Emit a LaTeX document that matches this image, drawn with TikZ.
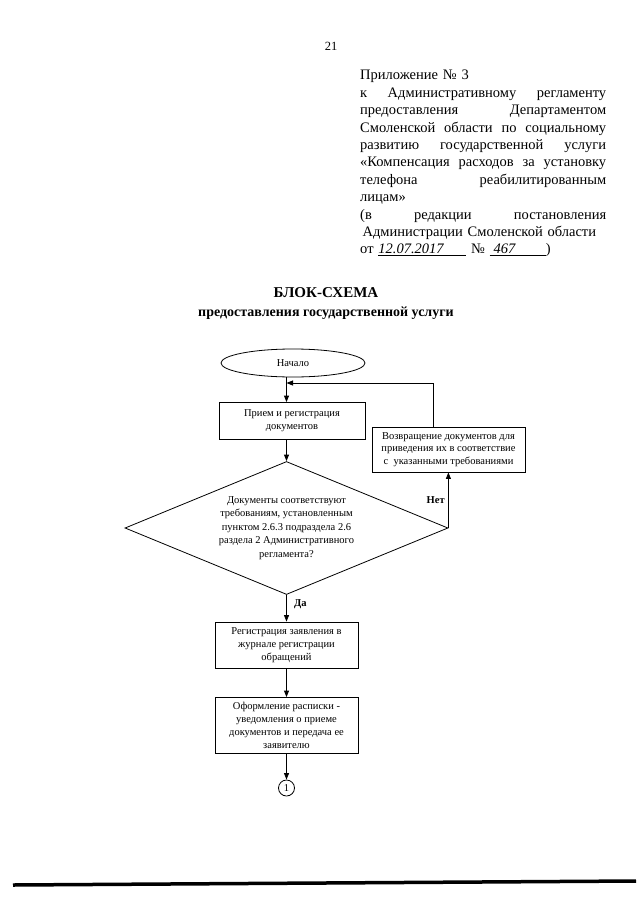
\documentclass[tikz,border=0pt]{standalone}
\usepackage{fontspec}
\setmainfont{Liberation Serif}
\usetikzlibrary{positioning, shapes.geometric, arrows.meta, calc}

% one justified line of the appendix header
\newcommand{\jline}[1]{\leavevmode\hbox to 246pt{#1}}

\begin{document}
\begin{tikzpicture}[x=1pt, y=-1pt,
    box/.style={draw, line width=0.8pt, align=center, inner sep=1pt, font=\fontsize{10.5}{12.8}\selectfont},
    arr/.style={line width=0.8pt, -{Triangle[length=6.5pt,width=5pt]}},
    lbl/.style={font=\bfseries\fontsize{10.5}{12.6}\selectfont}]
  \useasboundingbox (0,0) rectangle (640,905);

  % Page number and appendix header
  \node[font=\fontsize{12.5}{15}\selectfont] (page) at (331,46) {21};
  \node[anchor=north west, inner sep=0pt, text width=246pt, align=left,
        font=\fontsize{14.5}{17.4}\selectfont] (app) at (360,70) {%
    Приложение № 3\\
    \jline{к\hfill Административному\hfill регламенту}\\
    \jline{предоставления\hfill Департаментом}\\
    \jline{Смоленской\hfill области\hfill по\hfill социальному}\\
    \jline{развитию\hfill государственной\hfill услуги}\\
    \jline{«Компенсация\hfill расходов\hfill за\hfill установку}\\
    \jline{телефона\hfill реабилитированным}\\
    лицам»\\
    \jline{(в\hfill редакции\hfill постановления}\\
    \,Администрации Смоленской области\\
    от \underline{\textit{12.07.2017}\hspace*{22pt}} № \underline{\hspace*{4pt}\textit{467}\hspace*{30pt}})};

  % Title
  \node[font=\bfseries\fontsize{14}{19}\selectfont, align=center] (title) at (326,304)
    {{\fontsize{15}{19}\selectfont БЛОК-СХЕМА}\\предоставления государственной услуги};

  % Blocks
  \node[box, ellipse, minimum width=144pt, minimum height=28pt] (start) at (293,363) {Начало};
  \node[box, minimum width=146pt, minimum height=37pt] (priem) at (292,421)
    {Прием и регистрация\\документов};
  \node[box, minimum width=153pt, minimum height=45pt] (vozvr) at (448.5,449.5)
    {Возвращение документов для\\приведения их в соответствие\\с~~указанными требованиями};
  \node[box, diamond, shape aspect=2.4, minimum width=323pt, minimum height=133pt, inner sep=0pt,
        font=\fontsize{10.5}{13.6}\selectfont] (check) at (286.5,528)
    {Документы соответствуют\\требованиям, установленным\\пунктом 2.6.3 подраздела 2.6\\раздела 2 Административного\\регламента?};
  \node[box, minimum width=143pt, minimum height=46pt] (reg) at (286.5,645)
    {Регистрация заявления в\\журнале регистрации\\обращений};
  \node[box, minimum width=143pt, minimum height=56pt] (rasp) at (286.5,725.5)
    {Оформление расписки -\\уведомления о приеме\\документов и передача ее\\заявителю};
  \node[box, circle, minimum size=16pt, inner sep=0pt] (next) at (286.5,788) {1};

  % Connectors
  \coordinate (merge) at (286.5,383);
  \draw[arr] (start.south -| check.north) -- (priem.north -| check.north);
  \draw[arr] (priem.south -| check.north) -- (check.north);
  \draw[arr] (check.east) -- (vozvr.south -| check.east) node[lbl, midway, left] {Нет};
  \draw[arr] ([xshift=-15.5pt]vozvr.north) |- (merge);
  \draw[arr] (check.south) -- (reg.north) node[lbl, pos=0.35, right=4pt] {Да};
  \draw[arr] (reg.south) -- (rasp.north);
  \draw[arr] (rasp.south) -- (next.north);

  % Rule at the foot of the page
  \draw[line width=3.5pt] (13,885) -- (636,881);
\end{tikzpicture}
\end{document}
